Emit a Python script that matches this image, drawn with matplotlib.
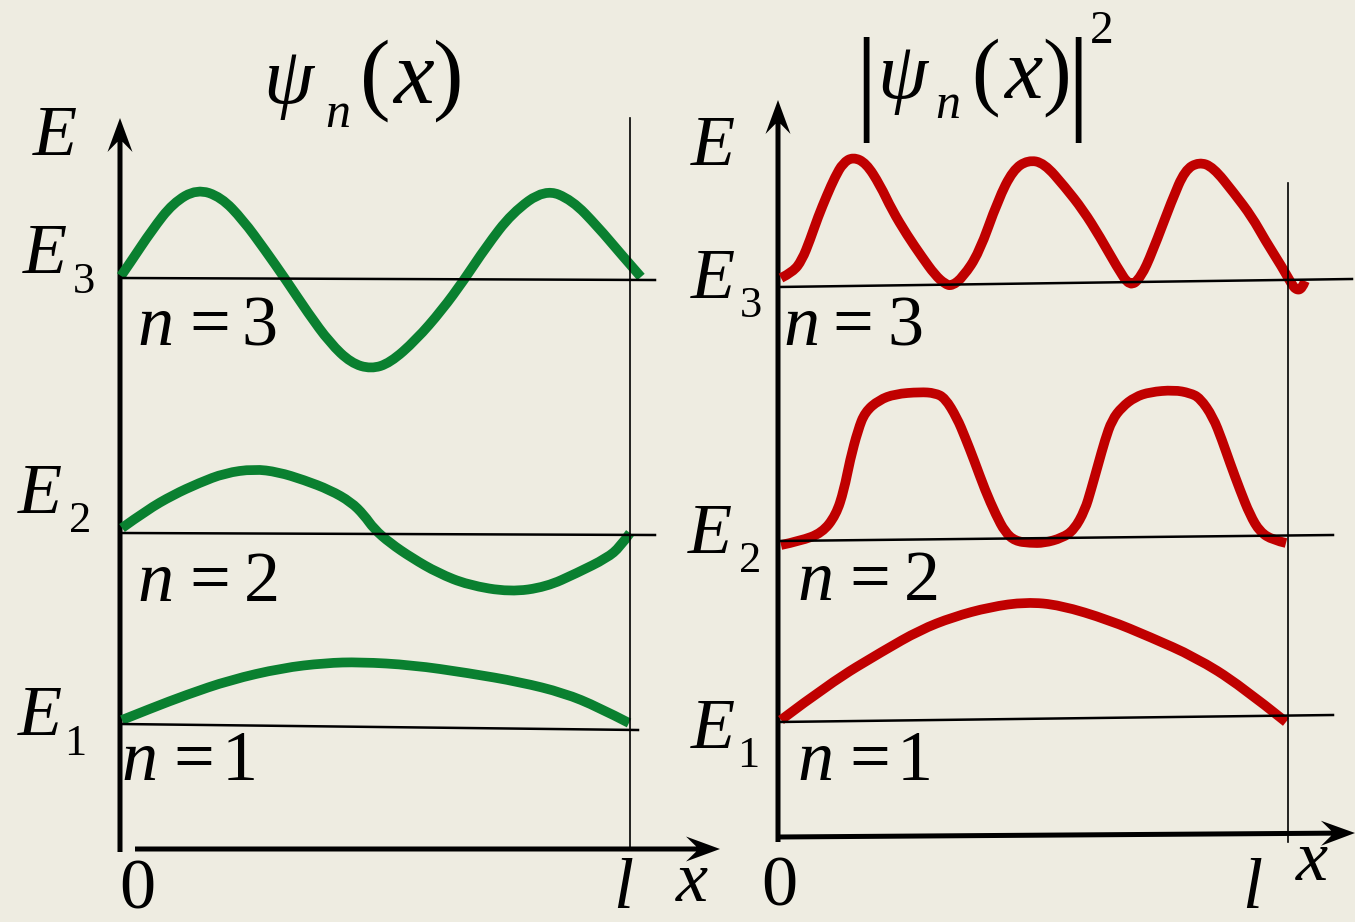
import os
import numpy as np
import matplotlib.pyplot as plt
from matplotlib.path import Path
from matplotlib.patches import PathPatch
from matplotlib.font_manager import FontProperties

FONT_DIR = '/usr/share/fonts/truetype/liberation'


def serif_font(size, style):
    fname = os.path.join(FONT_DIR, 'LiberationSerif-Italic.ttf' if style == 'italic'
                         else 'LiberationSerif-Regular.ttf')
    if os.path.exists(fname):
        return FontProperties(fname=fname, size=size)
    return FontProperties(family='Liberation Serif', style=style, size=size)


BG = '#EEECE1'
GREEN = '#0A8030'
RED = '#C00000'

# wave functions psi_n(x), sketched curves (drawing units, y down)
psi3_x = [121, 130, 152, 173, 197, 221, 243, 265, 286, 308, 330, 351, 371, 390, 416, 442, 464, 486, 512, 545, 572, 598, 620, 641]
psi3_y = [276, 263, 230, 203, 189, 197, 220, 250, 280, 313, 343, 363, 369, 363, 340, 310, 280, 247, 213, 189, 200, 227, 253, 277]

psi2_x = [122, 147, 173, 199, 225, 254, 278, 304, 330, 351, 364, 374, 390, 412, 438, 468, 510, 546, 577, 607, 620, 630]
psi2_y = [528, 510, 495, 483, 473, 469, 472, 480, 490, 502, 515, 529, 543, 558, 573, 585, 592, 587, 573, 558, 547, 533]

psi1_x = [122, 152, 186, 230, 282, 325, 360, 412, 468, 520, 564, 598, 629]
psi1_y = [720, 708, 695, 680, 668, 663, 662, 665, 673, 682, 693, 707, 723]

# probability densities |psi_n(x)|^2
prob3_x = [781, 793, 802, 810, 818, 827, 835, 843, 853, 866, 880, 892, 907, 922, 935, 945, 952, 963, 979, 998, 1013, 1028,
           1044, 1065, 1083, 1100, 1117, 1130, 1141, 1152, 1172, 1185, 1199, 1213, 1234, 1252, 1265, 1282, 1291, 1296, 1302, 1305]
prob3_y = [278, 272, 260, 240, 217, 195, 177, 163, 157, 163, 185, 210, 235, 257, 275, 284, 286, 277, 253, 200, 170, 160,
           163, 187, 210, 237, 267, 287, 277, 253, 200, 170, 162, 167, 193, 217, 240, 267, 283, 290, 289, 281]

prob2_x = [781, 800, 822, 836, 844, 850, 858, 865, 879, 895, 920, 935, 945, 957, 965, 974, 985, 996, 1005, 1015, 1030,
           1044, 1062, 1074, 1085, 1091, 1098, 1105, 1112, 1122, 1135, 1150, 1174, 1190, 1200, 1213, 1222, 1230, 1240,
           1250, 1260, 1273, 1286]
prob2_y = [545, 541, 533, 515, 490, 460, 430, 412, 400, 394, 392, 393, 398, 418, 437, 460, 490, 515, 532, 541, 543,
           543, 538, 530, 510, 490, 465, 440, 420, 407, 397, 392, 390, 393, 398, 417, 440, 463, 490,
           515, 532, 540, 543]

prob1_x = [781, 830, 883, 920, 953, 990, 1026, 1060, 1109, 1150, 1195, 1240, 1286]
prob1_y = [720, 683, 651, 630, 617, 607, 602, 605, 620, 637, 657, 685, 722]

# energy levels E1..E3 (y at left and right end of each level line)
levels_left_y = [(724, 730), (533, 535), (278, 280)]
levels_left_end = [638, 655, 655]
levels_right_y = [(722, 715), (541, 535), (287, 279)]
levels_right_end = [1333, 1333, 1352]

fig = plt.figure(figsize=(13.55, 9.22), dpi=100, facecolor=BG)
ax = fig.add_axes([0, 0, 1, 1])
ax.set_facecolor(BG)
ax.set_xlim(0, 1355)
ax.set_ylim(922, 0)
ax.axis('off')


def smooth_curve(xs, ys, color):
    # quadratic bezier through the midpoints of the sketched points
    pts = np.column_stack([xs, ys]).astype(float)
    verts = [pts[0]]
    codes = [Path.MOVETO]
    for i in range(1, len(pts) - 1):
        mid = (pts[i] + pts[i + 1]) / 2 if i < len(pts) - 2 else pts[i + 1]
        verts += [pts[i], mid]
        codes += [Path.CURVE3, Path.CURVE3]
    patch = PathPatch(Path(verts, codes), facecolor='none', edgecolor=color, lw=7,
                      capstyle='butt', joinstyle='round')
    ax.add_patch(patch)


# axes with arrows
arrow_kw = dict(width=5, head_width=25, head_length=34, length_includes_head=True,
                overhang=0.3, color='k', lw=0)
ax.arrow(120, 852, 0, 118 - 852, **arrow_kw)
ax.arrow(135, 849, 720 - 135, 0, **arrow_kw)
ax.arrow(778, 842, 0, 100 - 842, **arrow_kw)
ax.arrow(778, 837, 1355 - 778, -4, **arrow_kw)

# walls at x = l
ax.plot([630, 630], [118, 850], color='k', lw=1.2)
ax.plot([1288, 1288], [183, 842], color='k', lw=1.2)

# level lines
for (y0, y1), x1 in zip(levels_left_y, levels_left_end):
    ax.plot([120, x1], [y0, y1], color='k', lw=1.8)
for (y0, y1), x1 in zip(levels_right_y, levels_right_end):
    ax.plot([778, x1], [y0, y1], color='k', lw=1.8)

# curves
for xs, ys in [(psi3_x, psi3_y), (psi2_x, psi2_y), (psi1_x, psi1_y)]:
    smooth_curve(xs, ys, GREEN)
for xs, ys in [(prob3_x, prob3_y), (prob2_x, prob2_y), (prob1_x, prob1_y)]:
    smooth_curve(xs, ys, RED)


def put(x, y, s, size=52, style='italic'):
    ax.text(x, y, s, fontproperties=serif_font(size, style),
            ha='center', va='baseline', color='k')


# left panel labels
put(288, 103, 'ψ', 58)
put(338, 127, 'n', 36)
put(375, 103, '(', 66, 'normal')
put(413, 103, 'x', 66)
put(448, 103, ')', 66, 'normal')

put(55, 155, 'E')
for (ex, ey), (sx, sy), sub in [((45, 273), (84, 293), '3'), ((40, 513), (80, 532), '2'), ((40, 735), (75, 755), '1')]:
    put(ex, ey, 'E')
    put(sx, sy, sub, 32, 'normal')

for (nx, eqx, dx, by), num in [((155, 210, 259, 345), '3'), ((155, 210, 262, 601), '2'), ((139, 194, 240, 780), '1')]:
    put(nx, by, 'n')
    put(eqx, by, '=', 52, 'normal')
    put(dx, by, num, 52, 'normal')

put(137, 908, '0', 52, 'normal')
put(623, 908, 'l')
put(692, 901, 'x')

# right panel labels
put(866, 118, '|', 84, 'normal')
put(902, 98, 'ψ', 58)
put(948, 118, 'n', 36)
put(986, 98, '(', 62, 'normal')
put(1023, 98, 'x', 62)
put(1057, 98, ')', 62, 'normal')
put(1078, 118, '|', 84, 'normal')
put(1102, 43, '2', 34, 'normal')

put(713, 165, 'E')
for (ex, ey), (sx, sy), sub in [((713, 298), (751, 317), '3'), ((710, 553), (750, 572), '2'), ((713, 748), (748, 767), '1')]:
    put(ex, ey, 'E')
    put(sx, sy, sub, 32, 'normal')

for (nx, eqx, dx, by), num in [((801, 853, 905, 345), '3'), ((815, 870, 922, 600), '2'), ((815, 870, 915, 780), '1')]:
    put(nx, by, 'n')
    put(eqx, by, '=', 52, 'normal')
    put(dx, by, num, 52, 'normal')

put(779, 905, '0', 52, 'normal')
put(1252, 908, 'l')
put(1312, 880, 'x')

fig.savefig('out.png', dpi=100, facecolor=BG)
